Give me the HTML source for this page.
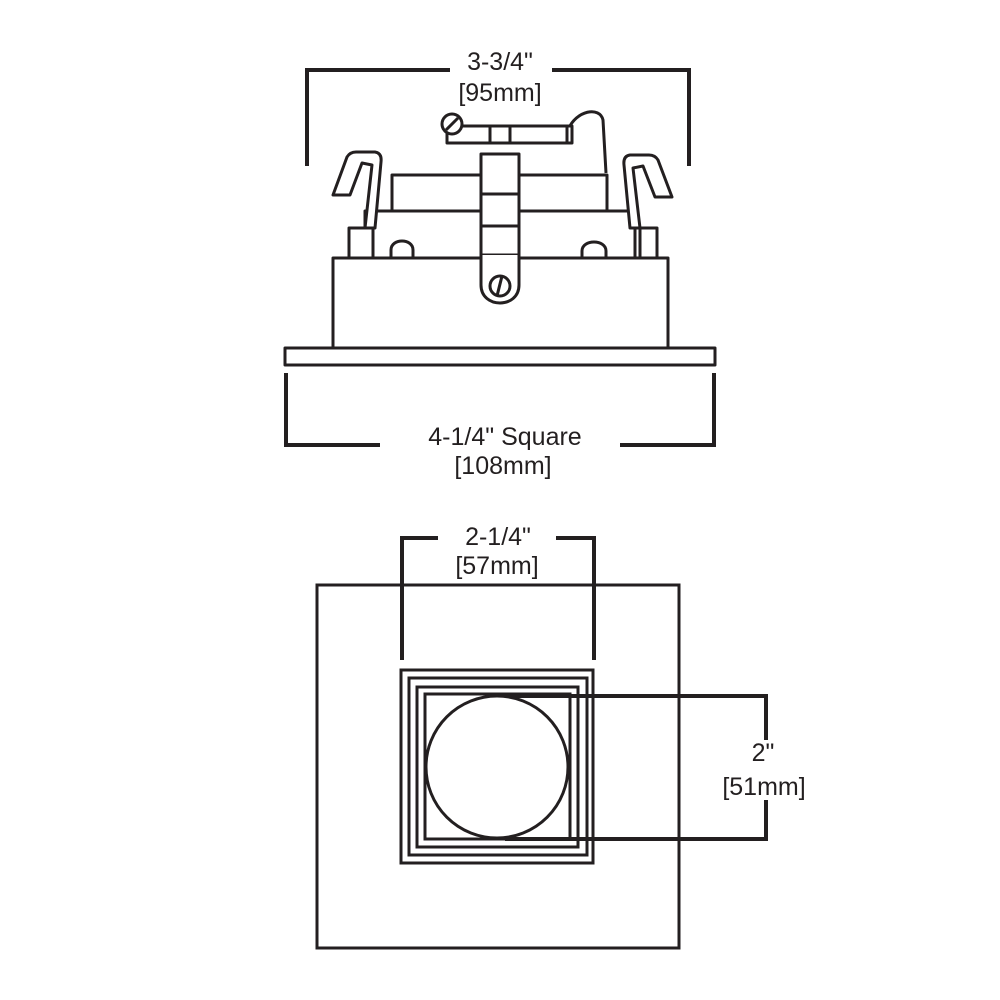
<!DOCTYPE html>
<html><head><style>body{margin:0;background:#fff}svg{display:block}text{font-family:"Liberation Sans",sans-serif;font-size:25px;fill:#231f20;text-anchor:middle}</style></head>
<body>
<svg width="1000" height="1000" viewBox="0 0 1000 1000" xmlns="http://www.w3.org/2000/svg">
<g fill="#fff" stroke="#231f20" stroke-width="3" stroke-linejoin="round">
<path d="M568 130C576 110 600 106 603 120L606 173" fill="none"/>
<rect x="392" y="175" width="215" height="38"/>
<rect x="447" y="126" width="125" height="17"/>
<path d="M490 126v17M510 126v17M567 126v17" fill="none"/>
<circle cx="452" cy="124" r="10"/>
<path d="M446 130l12-12" fill="none"/>
<rect x="365" y="211" width="270" height="48"/>
<path d="M391 258v-8c0-12 22-12 22 0v8zM582 258v-7c0-12 24-12 24 0v7z"/>
<rect x="349" y="228" width="24" height="30"/>
<path d="M333 195L347 157Q350 152 356 152L375 152Q382 153 381 162L375 228L365 228L372 165L362 163L350 195Z"/>
<path d="M672 197L658 160Q655 155 649 155L630 155Q623 156 624 165L630 228L640 228L633 168L643 166L655 197Z"/>
<rect x="640" y="228" width="17" height="30"/>
<rect x="333" y="258" width="335" height="91"/>
<rect x="285" y="348" width="430" height="17"/>
<path d="M481 255v-101h38v101z"/>
<path d="M481 194h38M481 226h38"/>
<path d="M481 255v30c0 24 38 24 38 0v-30"/>
<circle cx="500" cy="286" r="10"/>
<path d="M497 296l5-20" fill="none"/>
</g>
<g fill="none" stroke="#231f20" stroke-width="3">
<rect x="317" y="585" width="362" height="363"/>
<rect x="401" y="670" width="192" height="193"/>
<rect x="409" y="678" width="178" height="177"/>
<rect x="417" y="687" width="161" height="160"/>
<rect x="425" y="694" width="145" height="145"/>
<circle cx="497" cy="767" r="71"/>
</g>
<g fill="none" stroke="#231f20" stroke-width="4">
<path d="M307 166V70H450M552 70H689V166"/>
<path d="M286 373V445H380M620 445H714V373"/>
<path d="M402 660V538H438M556 538H594V660"/>
<path d="M505 696H766V740M766 800V839H505"/>
</g>
<g fill="#231f20">
<text x="500" y="70">3-3/4"</text>
<text x="500" y="101">[95mm]</text>
<text x="505" y="445">4-1/4" Square</text>
<text x="503" y="474">[108mm]</text>
<text x="498" y="545">2-1/4"</text>
<text x="497" y="574">[57mm]</text>
<text x="763" y="761">2"</text>
<text x="764" y="795">[51mm]</text>
</g>
</svg>
</body></html>
